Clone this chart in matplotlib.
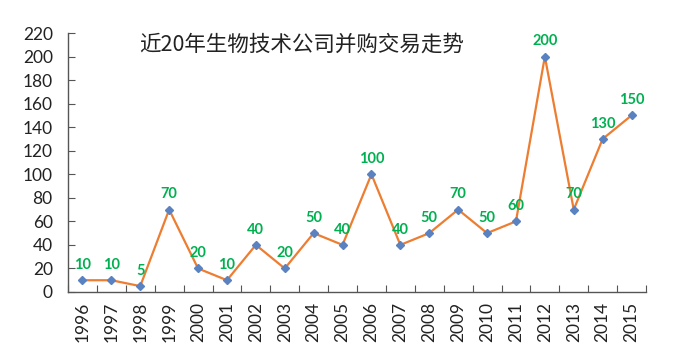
import matplotlib
matplotlib.use("Agg")
import matplotlib.pyplot as plt
import numpy as np

plt.rcParams['font.family'] = ['Lato', 'Noto Sans CJK SC', 'DejaVu Sans']

years = ['1996', '1997', '1998', '1999', '2000', '2001', '2002', '2003', '2004', '2005',
         '2006', '2007', '2008', '2009', '2010', '2011', '2012', '2013', '2014', '2015']
deals = [10, 10, 5, 70, 20, 10, 40, 20, 50, 40, 100, 40, 50, 70, 50, 60, 200, 70, 130, 150]
title = '近20年生物技术公司并购交易走势'

fig = plt.figure(figsize=(6.75, 3.51), dpi=100)
ax = fig.add_axes([68/675, 1-292/351, (646-68)/675, (292-33)/351])

x = np.arange(len(years))
ax.plot(x, deals, color='#ED7D31', lw=1.6, zorder=2)
ax.plot(x, deals, ls='none', marker='D', ms=4.5, color='#5B82C0', zorder=3)
for xi, v in zip(x, deals):
    ax.annotate(str(v), (xi, v), xytext=(0, 6), textcoords='offset points',
                ha='center', va='bottom', color='#00B050', fontsize=10.5, fontweight='bold')

ax.set_xlim(-0.5, len(years) - 0.5)
ax.set_ylim(0, 220)
ax.set_yticks(np.arange(0, 221, 20))
ax.set_xticks(np.arange(-0.5, len(years), 1.0))
ax.set_xticklabels([])
ax.set_xticks(x, minor=True)
ax.set_xticklabels(years, minor=True, rotation=90)
ax.tick_params(axis='x', which='minor', length=0, labelsize=12.5, colors='#222222', pad=7)
ax.tick_params(axis='x', which='major', direction='in', length=5, color='#555555')
ax.tick_params(axis='y', direction='in', length=5, color='#555555', labelsize=12.5, labelcolor='#222222', pad=11)
for s in ['top', 'right']:
    ax.spines[s].set_visible(False)
for s in ['left', 'bottom']:
    ax.spines[s].set_color('#555555')
    ax.spines[s].set_linewidth(1.0)

fig.text(302/675, 1-45/351, title, ha='center', va='center', fontsize=15.5,
         family=['Noto Sans CJK SC', 'DejaVu Sans'], color='#222222')

fig.savefig('out.png', dpi=100)
